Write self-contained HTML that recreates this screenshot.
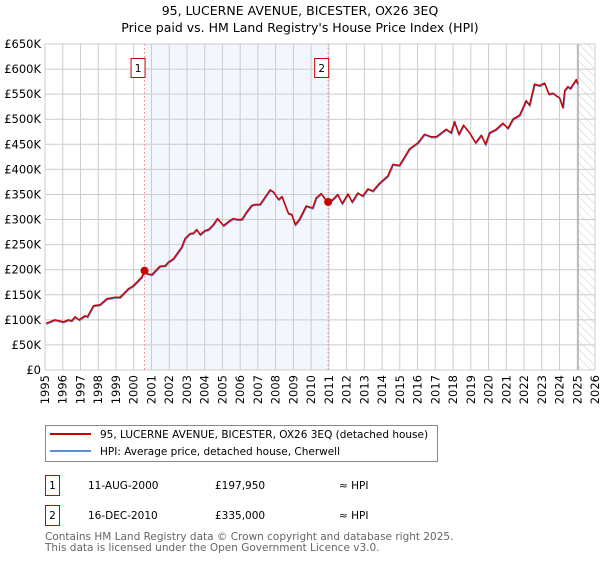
<!DOCTYPE html>
<html><head><meta charset="utf-8"><style>
body{margin:0;background:#fff;font-family:"Liberation Sans","DejaVu Sans",sans-serif;}
svg text{font-family:"DejaVu Sans","Liberation Sans",sans-serif;}
</style></head><body>
<svg id="chart" width="600" height="560" viewBox="0 0 600 560" xmlns="http://www.w3.org/2000/svg">
<defs><pattern id="hatch" width="6" height="6" patternUnits="userSpaceOnUse" patternTransform="rotate(-45)"><line x1="0" y1="0" x2="0" y2="6" stroke="#ccc" stroke-width="1"/></pattern></defs>
<text x="300" y="15" text-anchor="middle" font-size="12.5" fill="#000">95, LUCERNE AVENUE, BICESTER, OX26 3EQ</text>
<text x="300" y="32" text-anchor="middle" font-size="12.5" fill="#000">Price paid vs. HM Land Registry's House Price Index (HPI)</text>
<g id="plot"></g>
<g>
<rect x="45.5" y="425.5" width="392" height="36" fill="#fff" stroke="#888"/>
<line x1="50" y1="434" x2="91" y2="434" stroke="#cc0000" stroke-width="2"/>
<text x="100" y="438" font-size="10.5">95, LUCERNE AVENUE, BICESTER, OX26 3EQ (detached house)</text>
<line x1="50" y1="451" x2="91" y2="451" stroke="#5b8fd6" stroke-width="2"/>
<text x="100" y="455" font-size="10.5">HPI: Average price, detached house, Cherwell</text>
</g>
<g font-size="10.5">
<rect x="45.5" y="475.5" width="14" height="20" fill="none" stroke="#cc0000"/>
<text x="52.5" y="489" text-anchor="middle">1</text>
<text x="88" y="489">11-AUG-2000</text><text x="215" y="489">£197,950</text><text x="339" y="489">≈ HPI</text>
</g>
<g font-size="10.5">
<rect x="45.5" y="505.5" width="14" height="20" fill="none" stroke="#cc0000"/>
<text x="52.5" y="519" text-anchor="middle">2</text>
<text x="88" y="519">16-DEC-2010</text><text x="215" y="519">£335,000</text><text x="339" y="519">≈ HPI</text>
</g>
<text x="45" y="540" font-size="10.5" fill="#666">Contains HM Land Registry data © Crown copyright and database right 2025.</text>
<text x="45" y="551" font-size="10.5" fill="#666">This data is licensed under the Open Government Licence v3.0.</text>
</svg>
<script>
const years=[1995.06,1995.56,1996.03,1996.32,1996.5,1996.69,1996.92,1997.26,1997.39,1997.73,1998.1,1998.48,1998.95,1999.23,1999.7,1999.98,2000.45,2000.61,2000.73,2001.02,2001.48,2001.77,2001.95,2002.24,2002.71,2002.89,2003.18,2003.36,2003.55,2003.74,2004.02,2004.21,2004.49,2004.72,2005.06,2005.43,2005.62,2005.81,2006.09,2006.37,2006.65,2006.84,2007.12,2007.41,2007.69,2007.88,2008.16,2008.35,2008.72,2008.91,2009.1,2009.34,2009.72,2010.09,2010.28,2010.56,2010.75,2010.94,2011.22,2011.5,2011.75,2012.07,2012.31,2012.63,2012.91,2013.2,2013.48,2013.85,2014.32,2014.61,2014.98,2015.55,2016.02,2016.39,2016.77,2017.05,2017.61,2017.89,2018.08,2018.33,2018.59,2018.93,2019.27,2019.59,2019.83,2020.06,2020.43,2020.81,2021.09,2021.37,2021.75,2022.12,2022.31,2022.59,2022.88,2023.16,2023.4,2023.63,2023.82,2024.0,2024.19,2024.29,2024.47,2024.61,2024.94,2025.03];
const prices=[93,100,96,100,98,106,100,108,106,128,130,142,145,145,162,168,185,198,192,190,207,208,215,222,245,262,272,273,280,270,278,280,290,302,288,298,302,300,300,315,328,330,330,345,359,355,340,346,312,310,290,300,327,323,343,352,343,333,340,350,332,351,335,353,347,361,357,372,387,410,408,441,453,470,465,465,480,473,495,470,488,473,453,468,450,473,480,492,482,500,508,537,528,570,567,572,550,552,547,543,523,557,565,561,579,570];
const hpi=prices.map(v=>v);
const saleYears=[2000.61,2010.96];
const salePrices=[197.95,335];
const saleLabels=["1","2"];
const yTicks=[0,50,100,150,200,250,300,350,400,450,500,550,600,650];
const xTicks=[1995,1996,1997,1998,1999,2000,2001,2002,2003,2004,2005,2006,2007,2008,2009,2010,2011,2012,2013,2014,2015,2016,2017,2018,2019,2020,2021,2022,2023,2024,2025,2026];
const L=45,R=595,T=44,B=370;
const X=y=>L+(y-1995)/(2026-1995)*(R-L);
const Y=v=>B-v/650*(B-T);
const NS="http://www.w3.org/2000/svg";
const g=document.getElementById('plot');
function mk(t,a,p){const e=document.createElementNS(NS,t);for(const k in a)e.setAttribute(k,a[k]);(p||g).appendChild(e);return e;}
let e;
e=mk('rect',{x:L,y:T,width:R-L,height:B-T,fill:'#fff'});


e=mk('rect',{x:X(saleYears[0]),y:T,width:X(saleYears[1])-X(saleYears[0]),height:B-T,fill:'#f3f6fd'});


e=mk('rect',{x:X(2025.05),y:T,width:R-X(2025.05),height:B-T,fill:'url(#hatch)'});


yTicks.forEach(v=>{
 e=mk('line',{x1:L,x2:R,y1:Y(v),y2:Y(v),stroke:'#ccc','stroke-width':1});
 
 
 e=mk('text',{x:L-4,y:Y(v)+4,'text-anchor':'end','font-size':11.5,fill:'#000'});
 e.textContent=v===0?'£0':'£'+v+'K';
 
 
});
xTicks.forEach(yr=>{
 e=mk('line',{x1:X(yr),x2:X(yr),y1:T,y2:B,stroke:'#ccc','stroke-width':1});
 
 
 e=mk('text',{x:0,y:0,'text-anchor':'end','font-size':11.5,fill:'#000',transform:`translate(${X(yr)+4},${B+5}) rotate(-90)`});
 e.textContent=yr;
 
 
});
e=mk('rect',{x:L,y:T,width:R-L,height:B-T,fill:'none',stroke:'#ccc'});


e=mk('line',{x1:X(2025.05),x2:X(2025.05),y1:T,y2:B,stroke:'#999','stroke-width':1});


saleYears.forEach((sy,i)=>{
 e=mk('line',{x1:X(sy),x2:X(sy),y1:T,y2:B,stroke:'#e88','stroke-width':1,'stroke-dasharray':'1.5,2.5'});
 
 
 e=mk('rect',{x:X(sy)-13.5,y:58.5,width:14,height:19,fill:'#fff',stroke:'#cc0000'});
 
 
 e=mk('text',{x:X(sy)-6.5,y:72,'text-anchor':'middle','font-size':10.5,fill:'#000'});
 e.textContent=saleLabels[i];
 
 
});
const pts=(arr,dx,dy)=>years.map((y,i)=>(X(y)+dx).toFixed(1)+','+(Y(arr[i])+dy).toFixed(1)).join(' ');
e=mk('polyline',{points:pts(hpi,0.5,0.8),fill:'none',stroke:'#5b8fd6','stroke-width':1.5});


e=mk('polyline',{points:pts(prices,0,0),fill:'none',stroke:'#cc0000','stroke-width':1.5,'stroke-linejoin':'round'});


saleYears.forEach((sy,i)=>{
 e=mk('circle',{cx:X(sy),cy:Y(salePrices[i]),r:4,fill:'#cc0000'});
 
 
});
</script>
</body></html>
